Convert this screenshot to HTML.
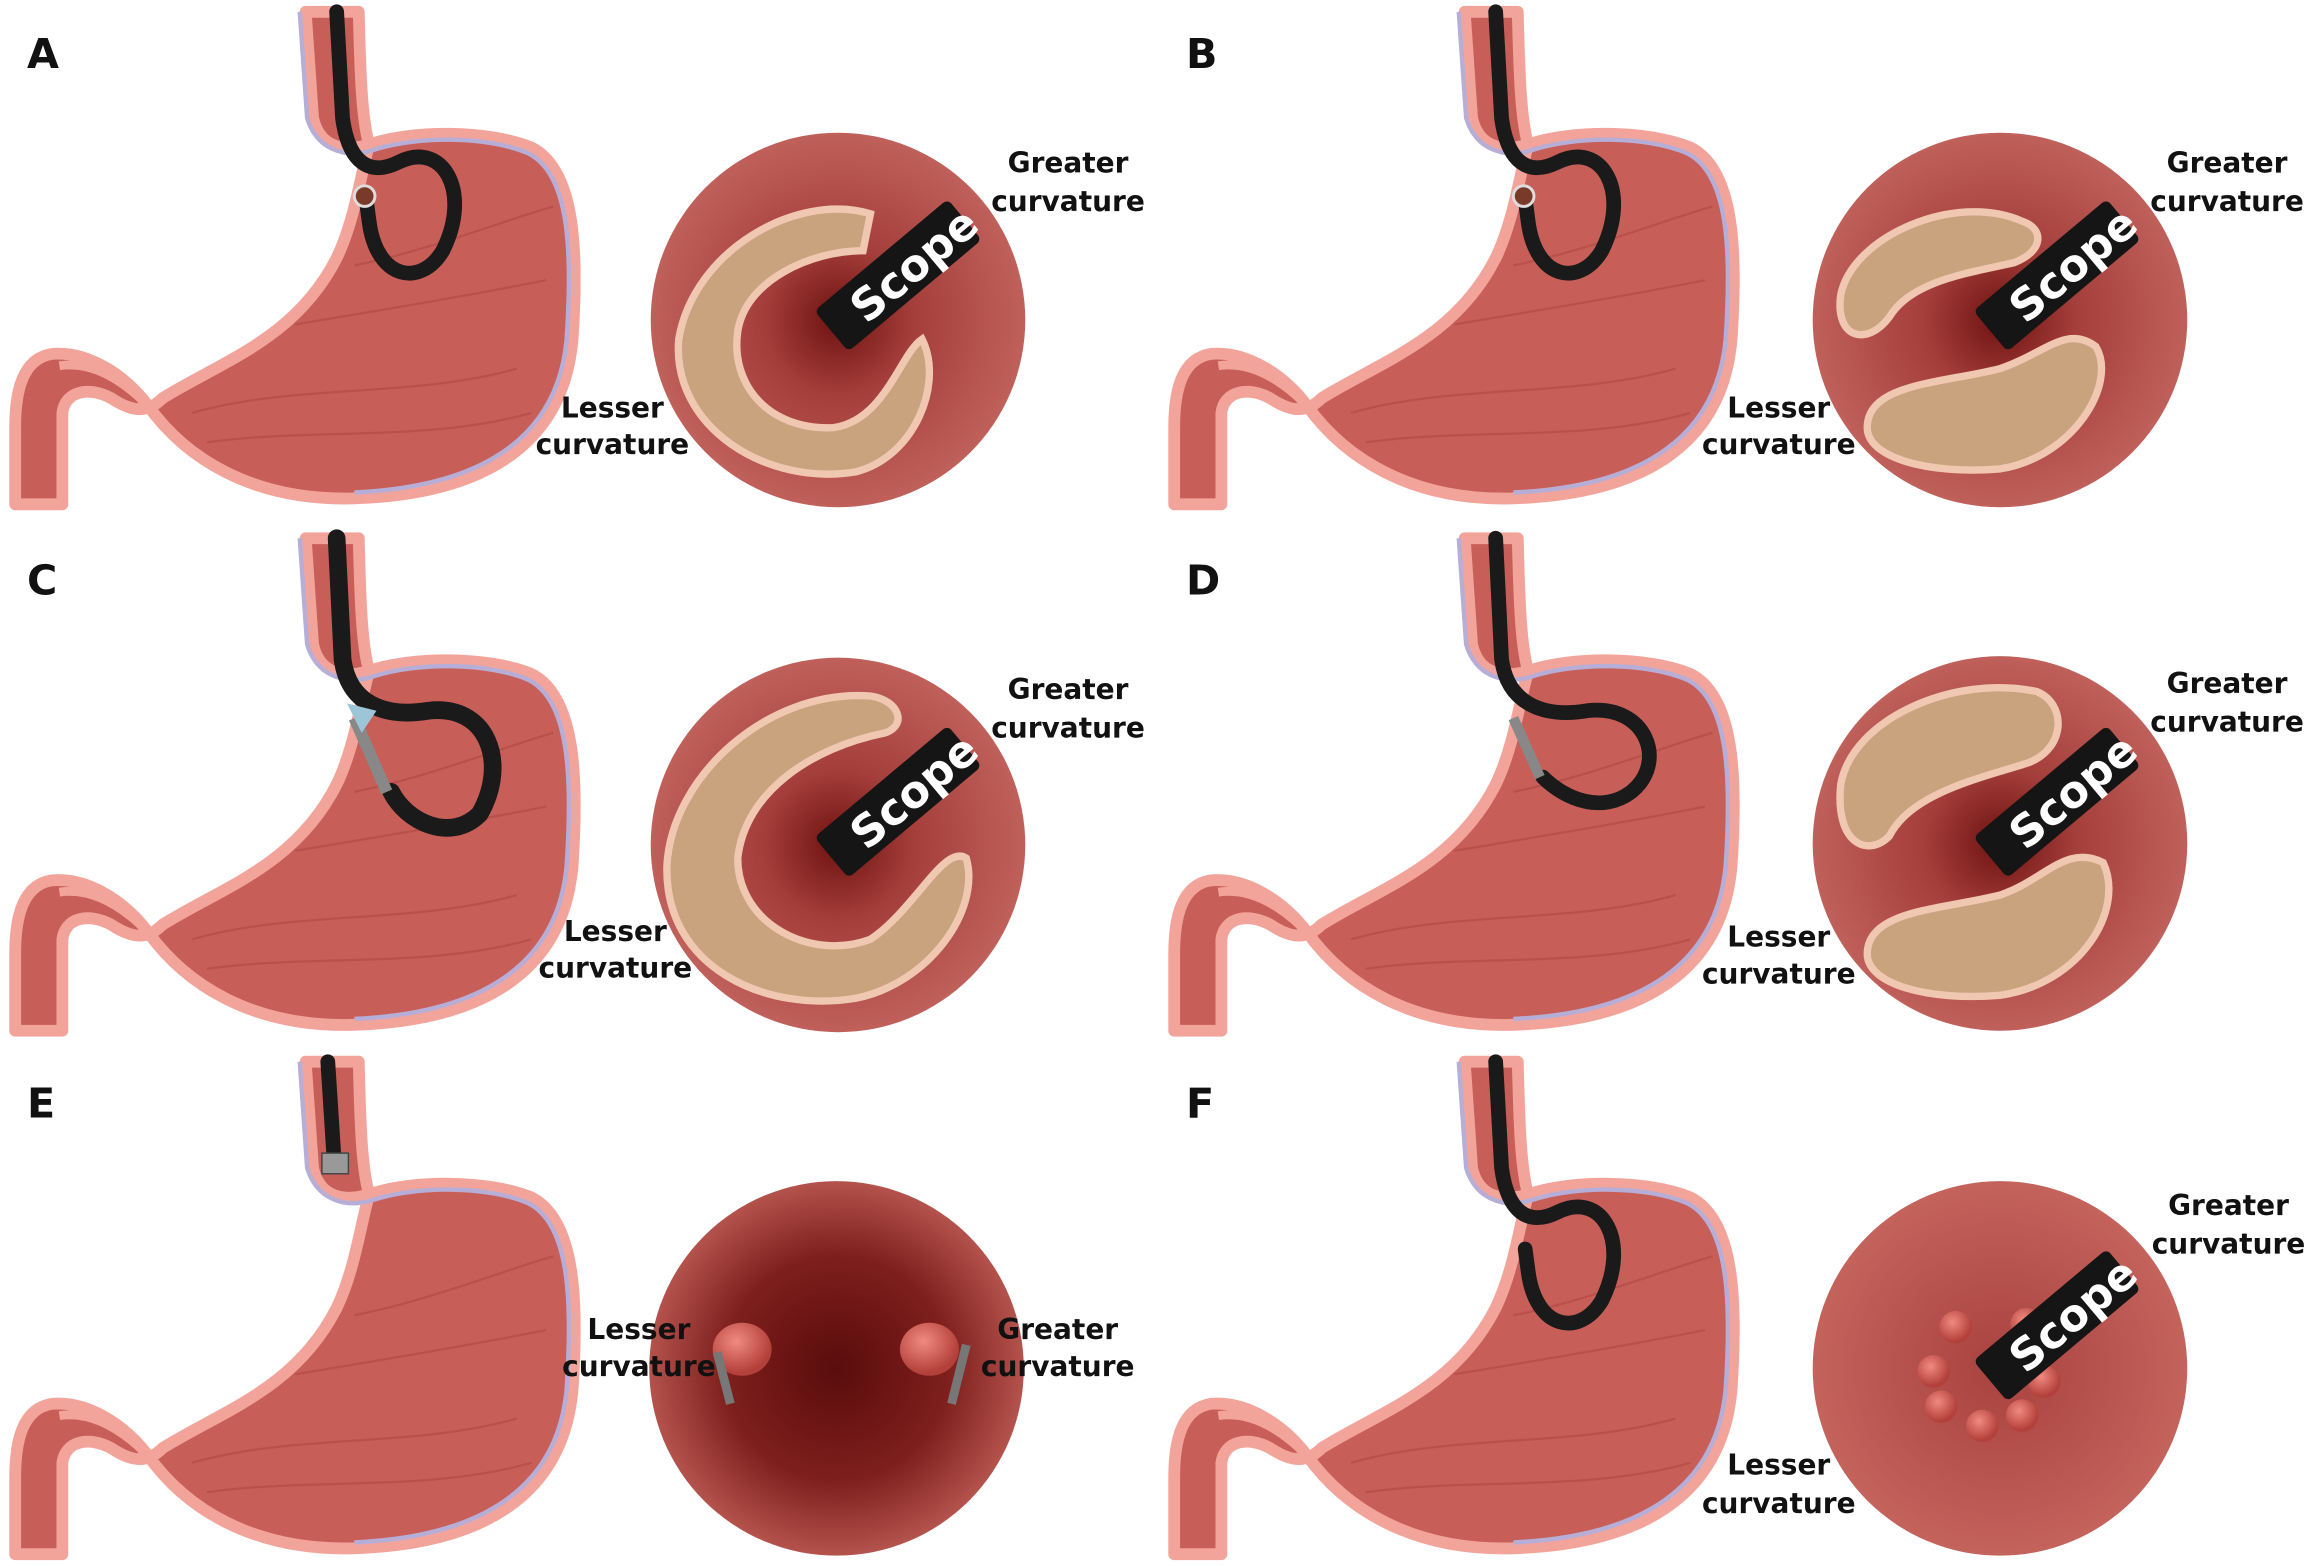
<!DOCTYPE html>
<html><head><meta charset="utf-8"><style>
html,body{margin:0;padding:0;background:#fff;}
svg{display:block}
text{font-family:"DejaVu Sans","Liberation Sans",sans-serif;font-weight:bold;}
</style></head><body>
<svg width="2313" height="1566" viewBox="0 0 1568 1062" xmlns="http://www.w3.org/2000/svg">
<defs>
<radialGradient id="cg" cx="0.5" cy="0.5" r="0.5">
<stop offset="0" stop-color="#6e1210"/><stop offset="0.4" stop-color="#a43e3a"/><stop offset="1" stop-color="#c0605a"/>
</radialGradient>
<radialGradient id="cgE" cx="0.5" cy="0.5" r="0.5">
<stop offset="0" stop-color="#5a0c0c"/><stop offset="0.6" stop-color="#7e1f1d"/><stop offset="1" stop-color="#b4524c"/>
</radialGradient>
<radialGradient id="cgF" cx="0.5" cy="0.5" r="0.5">
<stop offset="0" stop-color="#a8423e"/><stop offset="1" stop-color="#c4625c"/>
</radialGradient>
<radialGradient id="bump" cx="0.4" cy="0.35" r="0.6">
<stop offset="0" stop-color="#f08a80"/><stop offset="1" stop-color="#b3403a"/>
</radialGradient>
<g id="stomach">
<path d="M207,8 L212,80 C216,98 230,104 250,98 C280,88 330,88 360,100 C390,115 392,170 388,230 C382,300 330,335 240,338 C170,340 125,310 100,275 C85,255 60,238 35,240 C15,243 10,265 10,290 L10,342 L42,342 L42,280 C44,265 60,262 75,270 C90,280 100,280 110,270 C150,245 200,230 228,175 C240,150 244,120 250,98 C245,80 244,50 243,8 Z" fill="#c85e58" stroke="#f2a49b" stroke-width="8" stroke-linejoin="round"/>
<path d="M203,8 L208,80 C214,100 232,108 252,102 C282,92 330,92 358,104 C386,118 388,170 384,230 C378,296 328,330 240,334" fill="none" stroke="#b6aed6" stroke-width="3"/>
<path d="M100,275 C80,255 60,245 40,248" fill="none" stroke="#f2a49b" stroke-width="6"/>
<path d="M130,280 C200,260 280,270 350,250 M140,300 C210,290 290,300 360,280 M200,220 C260,210 320,200 370,190 M240,180 C290,170 340,150 375,140" fill="none" stroke="#b14c47" stroke-width="1.5" opacity="0.7"/>
</g>
</defs>

<g>
<text x="18" y="46" font-size="28" fill="#111">A</text>
<use href="#stomach"/>
<path d="M228,8 L232,80 C236,110 250,120 270,110 C300,95 320,130 300,170 C285,195 255,190 250,150 L248,135" fill="none" stroke="#1a1a1a" stroke-width="10" stroke-linecap="round"/>
<circle cx="247" cy="133" r="7" fill="#7a3a2a" stroke="#ddd" stroke-width="2"/>
<circle cx="568" cy="217" r="127" fill="url(#cg)"/>
<path d="M590,145 C540,130 470,170 460,230 C455,290 520,330 580,320 C620,310 640,260 625,230 C610,240 600,285 565,290 C520,292 495,260 500,225 C505,190 550,170 585,170 Z" fill="#c9a27e" stroke="#f0c7b0" stroke-width="5"/>
<g transform="translate(575,215) rotate(-40)"><rect x="-15" y="-18" width="118" height="36" rx="4" fill="#151515"/><text x="6" y="12" font-size="30" fill="#fff">Scope</text></g>
<text x="724" y="117" font-size="19" fill="#111" text-anchor="middle">Greater</text>
<text x="724" y="143" font-size="19" fill="#111" text-anchor="middle">curvature</text>
<text x="415" y="283" font-size="19" fill="#111" text-anchor="middle">Lesser</text>
<text x="415" y="308" font-size="19" fill="#111" text-anchor="middle">curvature</text>
</g>
<g transform="translate(786,0)">
<text x="18" y="46" font-size="28" fill="#111">B</text>
<use href="#stomach"/>
<path d="M228,8 L232,80 C236,110 250,120 270,110 C300,95 320,130 300,170 C285,195 255,190 250,150 L248,135" fill="none" stroke="#1a1a1a" stroke-width="10" stroke-linecap="round"/>
<circle cx="247" cy="133" r="7" fill="#7a3a2a" stroke="#ddd" stroke-width="2"/>
<circle cx="570" cy="217" r="127" fill="url(#cg)"/>
<path d="M585,150 C540,130 470,160 462,200 C458,230 480,235 495,215 C510,190 550,185 580,178 C600,170 600,155 585,150 Z" fill="#c9a27e" stroke="#f0c7b0" stroke-width="5"/>
<path d="M480,290 C480,260 530,260 570,250 C600,240 615,220 635,235 C650,260 620,310 570,318 C520,322 480,310 480,290 Z" fill="#c9a27e" stroke="#f0c7b0" stroke-width="5"/>
<g transform="translate(575,215) rotate(-40)"><rect x="-15" y="-18" width="118" height="36" rx="4" fill="#151515"/><text x="6" y="12" font-size="30" fill="#fff">Scope</text></g>
<text x="724" y="117" font-size="19" fill="#111" text-anchor="middle">Greater</text>
<text x="724" y="143" font-size="19" fill="#111" text-anchor="middle">curvature</text>
<text x="420" y="283" font-size="19" fill="#111" text-anchor="middle">Lesser</text>
<text x="420" y="308" font-size="19" fill="#111" text-anchor="middle">curvature</text>
</g>

<g transform="translate(0,357)">
<text x="18" y="46" font-size="28" fill="#111">C</text>
<use href="#stomach"/>
<path d="M228,8 L232,90 C236,120 260,130 290,125 C330,120 345,160 325,195 C305,215 275,200 265,180" fill="none" stroke="#1a1a1a" stroke-width="12" stroke-linecap="round"/>
<path d="M262,180 L240,130" stroke="#888" stroke-width="8"/><path d="M245,140 L235,120 L255,125 Z" fill="#9cc6d8"/>
<circle cx="568" cy="216" r="127" fill="url(#cg)"/>
<path d="M590,115 C520,110 455,170 452,230 C450,300 520,330 580,320 C630,310 665,260 655,225 C640,215 620,260 590,280 C550,295 500,270 500,225 C505,180 550,150 600,140 C615,135 610,118 590,115 Z" fill="#c9a27e" stroke="#f0c7b0" stroke-width="5"/>
<g transform="translate(575,215) rotate(-40)"><rect x="-15" y="-18" width="118" height="36" rx="4" fill="#151515"/><text x="6" y="12" font-size="30" fill="#fff">Scope</text></g>
<text x="724" y="117" font-size="19" fill="#111" text-anchor="middle">Greater</text>
<text x="724" y="143" font-size="19" fill="#111" text-anchor="middle">curvature</text>
<text x="417" y="281" font-size="19" fill="#111" text-anchor="middle">Lesser</text>
<text x="417" y="306" font-size="19" fill="#111" text-anchor="middle">curvature</text>
</g>
<g transform="translate(786,357)">
<text x="18" y="46" font-size="28" fill="#111">D</text>
<use href="#stomach"/>
<path d="M228,8 L232,90 C236,120 260,130 290,125 C330,120 345,160 320,180 C300,195 275,185 260,170" fill="none" stroke="#1a1a1a" stroke-width="10" stroke-linecap="round"/>
<path d="M258,170 L240,130" stroke="#888" stroke-width="7"/>
<circle cx="570" cy="215" r="127" fill="url(#cg)"/>
<path d="M595,112 C540,100 470,130 462,175 C458,215 480,225 495,210 C510,180 560,170 590,160 C615,150 615,120 595,112 Z" fill="#c9a27e" stroke="#f0c7b0" stroke-width="5"/>
<path d="M480,290 C480,260 530,260 570,250 C600,240 615,215 640,228 C655,260 625,310 570,318 C520,322 480,310 480,290 Z" fill="#c9a27e" stroke="#f0c7b0" stroke-width="5"/>
<g transform="translate(575,215) rotate(-40)"><rect x="-15" y="-18" width="118" height="36" rx="4" fill="#151515"/><text x="6" y="12" font-size="30" fill="#fff">Scope</text></g>
<text x="724" y="113" font-size="19" fill="#111" text-anchor="middle">Greater</text>
<text x="724" y="139" font-size="19" fill="#111" text-anchor="middle">curvature</text>
<text x="420" y="285" font-size="19" fill="#111" text-anchor="middle">Lesser</text>
<text x="420" y="310" font-size="19" fill="#111" text-anchor="middle">curvature</text>
</g>

<g transform="translate(0,712)">
<text x="18" y="46" font-size="28" fill="#111">E</text>
<use href="#stomach"/>
<path d="M222,8 L226,70" stroke="#1a1a1a" stroke-width="10" stroke-linecap="round"/>
<rect x="218" y="70" width="18" height="14" fill="#999" stroke="#444"/>
<circle cx="567" cy="216" r="127" fill="url(#cgE)"/>
<ellipse cx="503" cy="203" rx="20" ry="18" fill="url(#bump)"/>
<ellipse cx="630" cy="203" rx="20" ry="18" fill="url(#bump)"/>
<path d="M486,205 L495,240" stroke="#777" stroke-width="6"/>
<path d="M655,200 L645,240" stroke="#777" stroke-width="6"/>
<text x="433" y="196" font-size="19" fill="#111" text-anchor="middle">Lesser</text>
<text x="433" y="221" font-size="19" fill="#111" text-anchor="middle">curvature</text>
<text x="717" y="196" font-size="19" fill="#111" text-anchor="middle">Greater</text>
<text x="717" y="221" font-size="19" fill="#111" text-anchor="middle">curvature</text>
</g>
<g transform="translate(786,712)">
<text x="18" y="46" font-size="28" fill="#111">F</text>
<use href="#stomach"/>
<path d="M228,8 L232,80 C236,110 250,120 270,110 C300,95 320,130 300,170 C285,195 255,190 250,150 L248,135" fill="none" stroke="#1a1a1a" stroke-width="10" stroke-linecap="round"/>
<circle cx="570" cy="216" r="127" fill="url(#cgF)"/>
<g fill="url(#bump)">
<circle cx="540" cy="188" r="11"/><circle cx="588" cy="186" r="11"/><circle cx="525" cy="218" r="11"/><circle cx="530" cy="242" r="11"/><circle cx="558" cy="255" r="11"/><circle cx="585" cy="248" r="11"/><circle cx="600" cy="225" r="11"/>
</g>
<g transform="translate(575,215) rotate(-40)"><rect x="-15" y="-18" width="118" height="36" rx="4" fill="#151515"/><text x="6" y="12" font-size="30" fill="#fff">Scope</text></g>
<text x="725" y="112" font-size="19" fill="#111" text-anchor="middle">Greater</text>
<text x="725" y="138" font-size="19" fill="#111" text-anchor="middle">curvature</text>
<text x="420" y="288" font-size="19" fill="#111" text-anchor="middle">Lesser</text>
<text x="420" y="314" font-size="19" fill="#111" text-anchor="middle">curvature</text>
</g>
</svg>
</body></html>
